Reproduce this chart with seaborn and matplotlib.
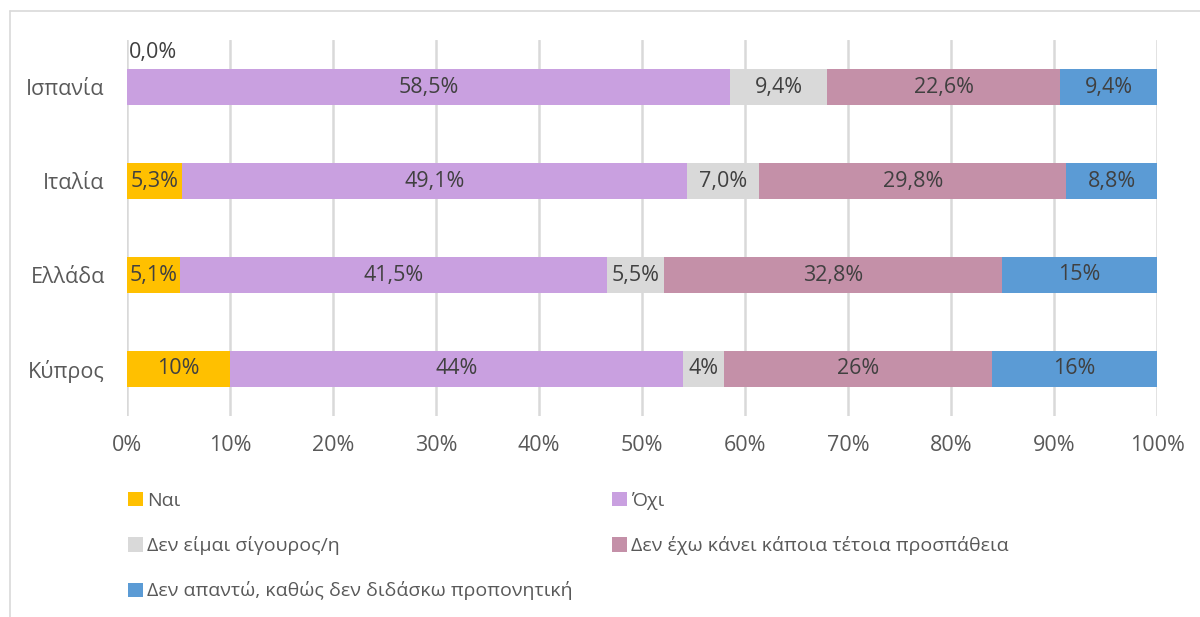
import matplotlib
matplotlib.use("Agg")
import matplotlib.pyplot as plt
import seaborn as sns
import pandas as pd
import numpy as np
from matplotlib.patches import Patch
from matplotlib.lines import Line2D

countries = ["Ισπανία", "Ιταλία", "Ελλάδα", "Κύπρος"]
series_names = ["Ναι", "Όχι", "Δεν είμαι σίγουρος/η",
                "Δεν έχω κάνει κάποια τέτοια προσπάθεια",
                "Δεν απαντώ, καθώς δεν διδάσκω προπονητική"]
nai = [0.0, 5.3, 5.1, 10]
oxi = [58.5, 49.1, 41.5, 44]
not_sure = [9.4, 7.0, 5.5, 4]
not_tried = [22.6, 29.8, 32.8, 26]
no_answer = [9.4, 8.8, 15, 16]
labels = [
    ["0,0%", "58,5%", "9,4%", "22,6%", "9,4%"],
    ["5,3%", "49,1%", "7,0%", "29,8%", "8,8%"],
    ["5,1%", "41,5%", "5,5%", "32,8%", "15%"],
    ["10%", "44%", "4%", "26%", "16%"],
]
colors = ["#FFC000", "#C9A0E0", "#D9D9D9", "#C490A8", "#5B9BD5"]

sns.set_theme(style="white")
plt.rcParams["font.family"] = ["Open Sans", "DejaVu Sans"]

vals = np.array([nai, oxi, not_sure, not_tried, no_answer], dtype=float)
vals = vals / vals.sum(axis=0) * 100
cum = np.cumsum(vals, axis=0)

fig = plt.figure(figsize=(12, 6.17), dpi=100)
ax = fig.add_axes([127/1200, 1-416/617, 1030/1200, 376/617])

for i in reversed(range(len(series_names))):
    df = pd.DataFrame({"country": countries, "v": cum[i]})
    sns.barplot(data=df, x="v", y="country", orient="h", color=colors[i],
                width=0.39, ax=ax, saturation=1, edgecolor="none", zorder=3)

ax.set_xlim(0, 100)
ax.set_ylim(3.5, -0.5)
ax.set_xticks(np.arange(0, 101, 10))
ax.set_xticklabels([f"{t}%" for t in range(0, 101, 10)])
ax.xaxis.grid(True, color="#D9D9D9", linewidth=1.8, zorder=0)
ax.yaxis.grid(False)
for s in ax.spines.values():
    s.set_visible(False)
ax.set_xlabel("")
ax.set_ylabel("")
ax.tick_params(axis="x", labelsize=15.5, colors="#595959", pad=14, length=0)
ax.tick_params(axis="y", labelsize=15.5, colors="#595959", pad=16, length=0)

for r in range(len(countries)):
    for i in range(len(series_names)):
        start = cum[i][r] - vals[i][r]
        if vals[i][r] == 0:
            ax.text(start + 0.2, r - 0.37, labels[r][i], ha="left", va="center",
                    fontsize=15.5, color="#404040", zorder=5)
        else:
            ax.text(start + vals[i][r] / 2, r, labels[r][i], ha="center", va="center",
                    fontsize=15.5, color="#404040", zorder=5)

def handles(idx):
    return [Patch(facecolor=colors[i], edgecolor="none") for i in idx], [series_names[i] for i in idx]

common = dict(frameon=False, fontsize=14, labelcolor="#595959", handlelength=0.75,
              handleheight=0.75, handletextpad=0.25, labelspacing=1.35, borderaxespad=0,
              borderpad=0)
h1, l1 = handles([0, 2, 4])
leg1 = fig.legend(h1, l1, loc="upper left", bbox_to_anchor=(128/1200, 1-492/617), **common)
h2, l2 = handles([1, 3])
leg2 = fig.legend(h2, l2, loc="upper left", bbox_to_anchor=(612/1200, 1-492/617), **common)

fig.add_artist(Line2D([10/1200, 10/1200], [0, 1-11/617], transform=fig.transFigure,
                      color="#D9D9D9", linewidth=1.2))
fig.add_artist(Line2D([10/1200, 1], [1-11/617, 1-11/617], transform=fig.transFigure,
                      color="#D9D9D9", linewidth=1.2))

fig.savefig("out.png", dpi=100, facecolor="white")
